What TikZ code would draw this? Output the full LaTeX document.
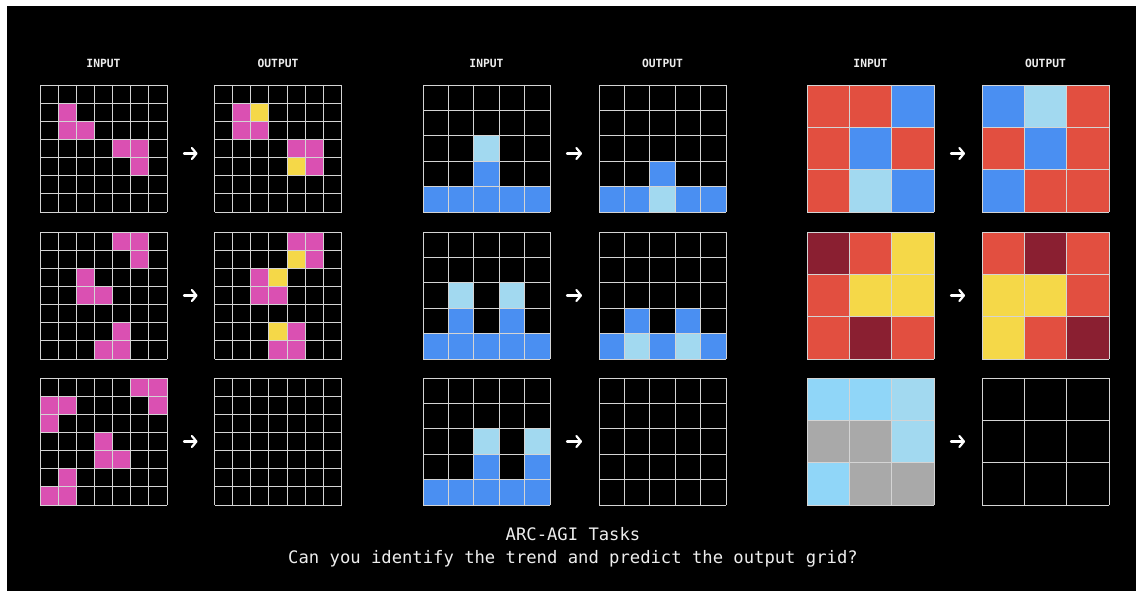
\documentclass[tikz,border=0pt]{standalone}
\usepackage{fontspec}
\setmonofont{DejaVu Sans Mono}
\usetikzlibrary{arrows.meta}

\definecolor{ruleline}{HTML}{D4D4D4}
\definecolor{pinkc}{HTML}{DA50B2}
\definecolor{yellowc}{HTML}{F5D848}
\definecolor{bluec}{HTML}{4A8FF2}
\definecolor{lightc}{HTML}{A2D9F0}
\definecolor{skyc}{HTML}{90D6F8}
\definecolor{redc}{HTML}{E24F40}
\definecolor{maroonc}{HTML}{8A1F31}
\definecolor{grayc}{HTML}{A9A9A9}
\definecolor{inkc}{HTML}{EDEDED}

\tikzset{
  panel/.style={minimum size=127pt, inner sep=0pt, outer sep=0pt, anchor=north west, fill=black},
  rule/.style={draw=ruleline, line width=0.9pt},
  head/.style={text=inkc, font=\ttfamily\bfseries\fontsize{11.3}{13}\selectfont},
  arr/.style={draw=white, line width=2.2pt, line cap=round,
    -{Straight Barb[length=4.5pt,width=11pt,round]}, shorten <=17pt, shorten >=17pt},
  caption/.style={text=inkc, font=\ttfamily\fontsize{17.2}{20}\selectfont, anchor=base},
}

% fill cells row/col of a panel with n cells per side
\newcommand{\paintcells}[4]{%
  \pgfmathsetmacro{\arcstep}{127/#2}%
  \foreach \ri/\ci in {#4}{%
    \fill[#3] ([xshift=\ci*\arcstep pt, yshift=-\ri*\arcstep pt]#1.north west) rectangle ++(\arcstep pt,-\arcstep pt);
  }}
% grid lines of a panel
\newcommand{\gridrules}[2]{%
  \pgfmathsetmacro{\arcstep}{127/#2}%
  \foreach \k in {0,...,#2}{%
    \draw[rule] ([xshift=\k*\arcstep pt]#1.north west) -- ([xshift=\k*\arcstep pt]#1.south west);
    \draw[rule] ([yshift=-\k*\arcstep pt]#1.north west) -- ([yshift=-\k*\arcstep pt]#1.north east);
  }}

\begin{document}
\begin{tikzpicture}[x=1pt,y=1pt]
\useasboundingbox (0,0) rectangle (1136,-591);
\fill[white] (0,0) rectangle (1136,-591);
\fill[black] (7,-6) rectangle (1136,-591);

% panels
\node[panel] (ain1) at (40,-85) {};
\node[panel] (aout1) at (214.5,-85) {};
\node[panel] (ain2) at (40,-232) {};
\node[panel] (aout2) at (214.5,-232) {};
\node[panel] (ain3) at (40,-378) {};
\node[panel] (aout3) at (214.5,-378) {};

\node[panel] (bin1) at (423,-85) {};
\node[panel] (bout1) at (599,-85) {};
\node[panel] (bin2) at (423,-232) {};
\node[panel] (bout2) at (599,-232) {};
\node[panel] (bin3) at (423,-378) {};
\node[panel] (bout3) at (599,-378) {};

\node[panel] (cin1) at (807,-85) {};
\node[panel] (cout1) at (982,-85) {};
\node[panel] (cin2) at (807,-232) {};
\node[panel] (cout2) at (982,-232) {};
\node[panel] (cin3) at (807,-378) {};
\node[panel] (cout3) at (982,-378) {};

% first task
\paintcells{ain1}{7}{pinkc}{1/1,2/1,2/2,3/4,3/5,4/5}
\paintcells{aout1}{7}{pinkc}{1/1,2/1,2/2,3/4,3/5,4/5}
\paintcells{aout1}{7}{yellowc}{1/2,4/4}
\paintcells{ain2}{7}{pinkc}{0/4,0/5,1/5,2/2,3/2,3/3,5/4,6/3,6/4}
\paintcells{aout2}{7}{pinkc}{0/4,0/5,1/5,2/2,3/2,3/3,5/4,6/3,6/4}
\paintcells{aout2}{7}{yellowc}{1/4,2/3,5/3}
\paintcells{ain3}{7}{pinkc}{0/5,0/6,1/0,1/1,1/6,2/0,3/3,4/3,4/4,5/1,6/0,6/1}

% second task
\paintcells{bin1}{5}{bluec}{3/2,4/0,4/1,4/2,4/3,4/4}
\paintcells{bin1}{5}{lightc}{2/2}
\paintcells{bout1}{5}{bluec}{3/2,4/0,4/1,4/3,4/4}
\paintcells{bout1}{5}{lightc}{4/2}
\paintcells{bin2}{5}{bluec}{3/1,3/3,4/0,4/1,4/2,4/3,4/4}
\paintcells{bin2}{5}{lightc}{2/1,2/3}
\paintcells{bout2}{5}{bluec}{3/1,3/3,4/0,4/2,4/4}
\paintcells{bout2}{5}{lightc}{4/1,4/3}
\paintcells{bin3}{5}{bluec}{3/2,3/4,4/0,4/1,4/2,4/3,4/4}
\paintcells{bin3}{5}{lightc}{2/2,2/4}

% third task
\paintcells{cin1}{3}{redc}{0/0,0/1,1/0,1/2,2/0}
\paintcells{cin1}{3}{bluec}{0/2,1/1,2/2}
\paintcells{cin1}{3}{lightc}{2/1}
\paintcells{cout1}{3}{bluec}{0/0,1/1,2/0}
\paintcells{cout1}{3}{lightc}{0/1}
\paintcells{cout1}{3}{redc}{0/2,1/0,1/2,2/1,2/2}
\paintcells{cin2}{3}{maroonc}{0/0,2/1}
\paintcells{cin2}{3}{redc}{0/1,1/0,2/0,2/2}
\paintcells{cin2}{3}{yellowc}{0/2,1/1,1/2}
\paintcells{cout2}{3}{redc}{0/0,0/2,1/2,2/1}
\paintcells{cout2}{3}{maroonc}{0/1,2/2}
\paintcells{cout2}{3}{yellowc}{1/0,1/1,2/0}
\paintcells{cin3}{3}{skyc}{0/0,0/1,2/0}
\paintcells{cin3}{3}{lightc}{0/2,1/2}
\paintcells{cin3}{3}{grayc}{1/0,1/1,2/1,2/2}

% grid lines
\foreach \p in {ain1,aout1,ain2,aout2,ain3,aout3}{\gridrules{\p}{7}}
\foreach \p in {bin1,bout1,bin2,bout2,bin3,bout3}{\gridrules{\p}{5}}
\foreach \p in {cin1,cout1,cin2,cout2,cin3,cout3}{\gridrules{\p}{3}}

% headings
\node[head] (ainh) at ([yshift=22pt]ain1.north) {INPUT};
\node[head] (aouth) at ([yshift=22pt]aout1.north) {OUTPUT};
\node[head] (binh) at ([yshift=22pt]bin1.north) {INPUT};
\node[head] (bouth) at ([yshift=22pt]bout1.north) {OUTPUT};
\node[head] (cinh) at ([yshift=22pt]cin1.north) {INPUT};
\node[head] (couth) at ([yshift=22pt]cout1.north) {OUTPUT};

% arrows
\foreach \t in {a,b,c}{
  \draw[arr] ([yshift=-5pt]\t in1.east) -- ([yshift=-5pt]\t out1.west);
  \draw[arr] (\t in2.east) -- (\t out2.west);
  \draw[arr] (\t in3.east) -- (\t out3.west);
}

% caption
\node[caption] (title) at (573,-540) {ARC-AGI Tasks};
\node[caption] (question) at (573,-563) {Can you identify the trend and predict the output grid?};
\end{tikzpicture}
\end{document}
